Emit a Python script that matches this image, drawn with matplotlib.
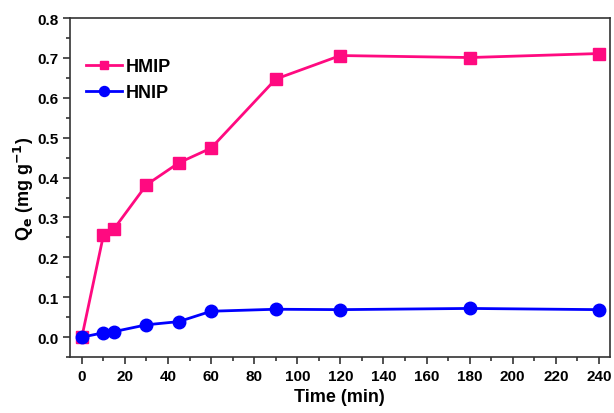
import numpy as np
import matplotlib.pyplot as plt
from matplotlib.ticker import MultipleLocator

plt.rcParams['font.family'] = ['Liberation Sans', 'DejaVu Sans']
plt.rcParams['font.weight'] = 'bold'

# Data
time_min = [0, 10, 15, 30, 45, 60, 90, 120, 180, 240]
qe_hmip = [0.0, 0.255, 0.272, 0.382, 0.437, 0.474, 0.647, 0.706, 0.701, 0.711]
qe_hnip = [0.0, 0.011, 0.014, 0.031, 0.039, 0.065, 0.070, 0.069, 0.072, 0.069]

# Create Figure
figure_1 = plt.figure(figsize=(6.14, 4.14), dpi=100)
axis_1 = figure_1.add_axes([0.114, 0.135, 0.879, 0.819])

axis_1.plot(time_min, qe_hmip, color='#FF0A80', marker='s', markersize=8,
            linewidth=2, label='HMIP')
axis_1.plot(time_min, qe_hnip, color='#0000FF', marker='o', markersize=9,
            linewidth=2, label='HNIP')

axis_1.set_xlim(-5.5, 245)
axis_1.set_ylim(-0.05, 0.8)
axis_1.xaxis.set_major_locator(MultipleLocator(20))
axis_1.xaxis.set_minor_locator(MultipleLocator(10))
axis_1.yaxis.set_major_locator(MultipleLocator(0.1))
axis_1.yaxis.set_minor_locator(MultipleLocator(0.05))
axis_1.yaxis.set_major_formatter(plt.FormatStrFormatter('%.1f'))

axis_1.tick_params(which='both', direction='out', top=False, right=False,
                   labelsize=11, width=1.2, color='#333333')
axis_1.tick_params(which='major', length=5)
axis_1.tick_params(which='minor', length=3)
for spine in axis_1.spines.values():
    spine.set_linewidth(1.2)
    spine.set_color('#333333')

# Set Labels
axis_1.set_xlabel('Time (min)', fontsize=13, fontweight='bold')
axis_1.set_ylabel('Q$_\\mathbf{e}$ (mg g$^{\\mathbf{-1}}$)', fontsize=13,
                  fontweight='bold', labelpad=1)

axis_1.legend(loc='upper left', bbox_to_anchor=(0.0, 0.93), frameon=False,
              fontsize=13, handlelength=2.0, handletextpad=0.2, labelspacing=0.5,
              markerscale=0.8)

plt.savefig('out.png', dpi=100)
